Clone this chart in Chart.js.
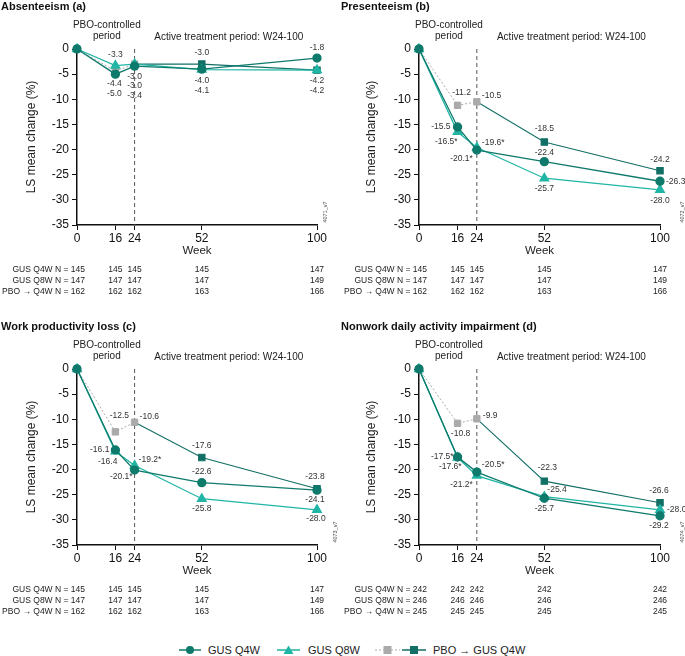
<!DOCTYPE html>
<html>
<head>
<meta charset="utf-8">
<script src="https://cdn.jsdelivr.net/npm/chart.js@4.4.0/dist/chart.umd.min.js"></script>
<style>
  body { margin: 0; background: #fff; font-family: "Liberation Sans", Arial, sans-serif; }
  #wrap { position: relative; width: 685px; height: 656px; overflow: hidden; }
  canvas { position: absolute; }
  #legend { position: absolute; left: 0; top: 644px; width: 685px; height: 16px; font-size: 11px; color: #222; }
  #legend span { position: absolute; top: 0; display: inline-flex; align-items: center; white-space: nowrap; }
</style>
</head>
<body>
<div id="wrap">
  <canvas id="absCanvas" width="340" height="320" style="left:0;top:0"></canvas>
  <canvas id="presCanvas" width="345" height="320" style="left:340px;top:0"></canvas>
  <canvas id="workCanvas" width="340" height="320" style="left:0;top:320px"></canvas>
  <canvas id="nonworkCanvas" width="345" height="320" style="left:340px;top:320px"></canvas>
  <div id="legend">
    <span style="left:179px"><svg width="22" height="10" style="margin-right:7px"><line x1="0" y1="5" x2="22" y2="5" stroke="#0e7a6c" stroke-width="1.5"/><circle cx="11" cy="5" r="4" fill="#0e7a6c"/></svg>GUS Q4W</span>
    <span style="left:277px"><svg width="23" height="10" style="margin-right:8px"><line x1="0" y1="5" x2="23" y2="5" stroke="#21b5a5" stroke-width="1.5"/><polygon points="11.5,0.5 16.5,9 6.5,9" fill="#21b5a5"/></svg>GUS Q8W</span>
    <span style="left:375px"><svg width="25" height="10" style="margin-right:2px"><line x1="0" y1="5" x2="25" y2="5" stroke="#aaa" stroke-width="1.2" stroke-dasharray="2,2"/><rect x="8.5" y="1" width="8" height="8" fill="#aaa"/></svg><svg width="24" height="10" style="margin-right:7px"><line x1="0" y1="5" x2="24" y2="5" stroke="#126f65" stroke-width="1.5"/><rect x="8" y="1" width="8" height="8" fill="#126f65"/></svg>PBO → GUS Q4W</span>
  </div>
</div>
<script>
// Weeks on the x axis
const weeks = [0, 16, 24, 52, 100];
const pboWeeks = [0, 16, 24];
const switchWeeks = [24, 52, 100];

// Absenteeism (a)
const absQ4W = [0, -5.0, -3.4, -4.0, -1.8];
const absQ8W = [0, -3.3, -3.0, -4.1, -4.2];
const absPBO = [0, -4.4, -3.0];
const absSwitch = [-3.0, -3.0, -4.2];

// Presenteeism (b)
const presQ4W = [0, -15.5, -20.1, -22.4, -26.3];
const presQ8W = [0, -16.5, -19.6, -25.7, -28.0];
const presPBO = [0, -11.2, -10.5];
const presSwitch = [-10.5, -18.5, -24.2];

// Work productivity loss (c)
const workQ4W = [0, -16.1, -20.1, -22.6, -24.1];
const workQ8W = [0, -16.4, -19.2, -25.8, -28.0];
const workPBO = [0, -12.5, -10.6];
const workSwitch = [-10.6, -17.6, -23.8];

// Nonwork daily activity impairment (d)
const nonworkQ4W = [0, -17.5, -20.5, -25.7, -29.2];
const nonworkQ8W = [0, -17.6, -21.2, -25.4, -28.0];
const nonworkPBO = [0, -10.8, -9.9];
const nonworkSwitch = [-9.9, -22.3, -26.6];

// Significance stars (point indexes)
const presStarsQ4W = [2];
const presStarsQ8W = [1, 2];
const workStarsQ4W = [2];
const workStarsQ8W = [2];
const nonworkStarsQ4W = [1, 2];
const nonworkStarsQ8W = [1, 2];

// Patients at each week
const nAbsQ4W = [145, 145, 145, 145, 147];
const nAbsQ8W = [147, 147, 147, 147, 149];
const nAbsPBO = [162, 162, 162, 163, 166];
const nNonworkQ4W = [242, 242, 242, 242, 242];
const nNonworkQ8W = [246, 246, 246, 246, 246];
const nNonworkPBO = [245, 245, 245, 245, 245];

const yTicks = [0, -5, -10, -15, -20, -25, -30, -35];

const C_Q4W = '#0e7a6c';
const C_Q8W = '#21b5a5';
const C_PBO = '#aaaaaa';
const C_SW = '#126f65';

// label placement: [dataset, point, dx, dy, align]
const absLabelPos = [
  [1, 1, 0, -11], [2, 1, -1, 13], [0, 1, -1, 20],
  [1, 2, 0, 13], [2, 2, 0, 22], [0, 2, 0, 30],
  [3, 1, 0, -11], [0, 3, 0, 12], [1, 3, 0, 21],
  [0, 4, 0, -10], [1, 4, 0, 11], [3, 2, 0, 21]
];
const presLabelPos = [
  [2, 1, 4, -13], [2, 2, 5, -6, 'left'], [0, 1, -7, 0, 'right'], [1, 1, 0, 10, 'right'],
  [1, 2, 5, -5, 'left'], [0, 2, -4, 9, 'right'], [3, 1, 0, -13], [0, 3, 0, -9],
  [1, 3, 0, 10], [3, 2, 0, -11], [0, 4, 6, 0, 'left'], [1, 4, 0, 11]
];
const workLabelPos = [
  [2, 1, 4, -16], [2, 2, 5, -6, 'left'], [0, 1, -6, 0, 'right'], [1, 1, 2, 10, 'right'],
  [1, 2, 4, -6, 'left'], [0, 2, -2, 7, 'right'], [3, 1, 0, -12], [0, 3, 0, -11],
  [1, 3, 0, 10], [3, 2, -2, -12], [0, 4, -2, 9], [1, 4, -1, 9]
];
const nonworkLabelPos = [
  [2, 1, 3, 10], [2, 2, 6, -3, 'left'], [0, 1, -4, 0, 'right'], [1, 1, 4, 9.5, 'right'],
  [0, 2, 5, -7, 'left'], [1, 2, -4, 9, 'right'], [3, 1, 3, -13], [1, 3, 3, -7, 'left'],
  [0, 3, 0, 10], [3, 2, -1, -12], [1, 4, 7, 0, 'left'], [0, 4, -1, 10]
];

const panels = [
  { id: 'absCanvas', title: 'Absenteeism (a)', q4w: absQ4W, q8w: absQ8W, pbo: absPBO, sw: absSwitch,
    starsQ4W: [], starsQ8W: [], nQ4W: nAbsQ4W, nQ8W: nAbsQ8W, nPBO: nAbsPBO,
    labelPos: absLabelPos, tag: '4071_v7', yWidth: 77, padRight: 23, tagDx: 8 },
  { id: 'presCanvas', title: 'Presenteeism (b)', q4w: presQ4W, q8w: presQ8W, pbo: presPBO, sw: presSwitch,
    starsQ4W: presStarsQ4W, starsQ8W: presStarsQ8W, nQ4W: nAbsQ4W, nQ8W: nAbsQ8W, nPBO: nAbsPBO,
    labelPos: presLabelPos, tag: '4072_v7', yWidth: 79, padRight: 25, tagDx: 22 },
  { id: 'workCanvas', title: 'Work productivity loss (c)', q4w: workQ4W, q8w: workQ8W, pbo: workPBO, sw: workSwitch,
    starsQ4W: workStarsQ4W, starsQ8W: workStarsQ8W, nQ4W: nAbsQ4W, nQ8W: nAbsQ8W, nPBO: nAbsPBO,
    labelPos: workLabelPos, tag: '4073_v7', yWidth: 77, padRight: 23, tagDx: 18 },
  { id: 'nonworkCanvas', title: 'Nonwork daily activity impairment (d)', q4w: nonworkQ4W, q8w: nonworkQ8W, pbo: nonworkPBO, sw: nonworkSwitch,
    starsQ4W: nonworkStarsQ4W, starsQ8W: nonworkStarsQ8W, nQ4W: nNonworkQ4W, nQ8W: nNonworkQ8W, nPBO: nNonworkPBO,
    labelPos: nonworkLabelPos, tag: '4074_v7', yWidth: 79, padRight: 25, tagDx: 22 }
];

const FONT = '"Liberation Sans", Arial, sans-serif';

function toPoints(xs, ys) {
  return xs.map((x, i) => ({ x: x, y: ys[i] }));
}

// extra drawing: titles, period notes, dashed line, value labels, N table
const extrasPlugin = {
  id: 'extras',
  beforeDatasetsDraw(chart) {
    const ctx = chart.ctx;
    const x24 = chart.scales.x.getPixelForValue(24);
    ctx.save();
    ctx.strokeStyle = '#555';
    ctx.lineWidth = 1;
    ctx.setLineDash([4, 3]);
    ctx.beginPath();
    ctx.moveTo(x24, chart.chartArea.top);
    ctx.lineTo(x24, chart.chartArea.bottom);
    ctx.stroke();
    ctx.restore();
  },
  afterDraw(chart) {
    const p = chart.options.plugins.extras.panel;
    const ctx = chart.ctx;
    const xs = chart.scales.x;
    const area = chart.chartArea;
    ctx.save();
    ctx.fillStyle = '#111';
    ctx.textBaseline = 'middle';

    ctx.font = 'bold 11px ' + FONT;
    ctx.textAlign = 'left';
    ctx.fillText(p.title, 1, 7);

    ctx.font = '10px ' + FONT;
    ctx.fillStyle = '#222';
    ctx.textAlign = 'center';
    const pcx = (area.left + xs.getPixelForValue(24)) / 2 + 1;
    ctx.fillText('PBO-controlled', pcx, 25);
    ctx.fillText('period', pcx, 36);
    ctx.fillText('Active treatment period: W24-100', (xs.getPixelForValue(24) + area.right) / 2 + 3, 37);

    // axis titles
    ctx.font = '11.5px ' + FONT;
    ctx.fillText('Week', (area.left + area.right) / 2, 251);
    ctx.save();
    ctx.translate(32, (area.top + area.bottom) / 2);
    ctx.rotate(-Math.PI / 2);
    ctx.font = '12px ' + FONT;
    ctx.fillText('LS mean change (%)', 0, 0);
    ctx.restore();

    // version tag
    ctx.save();
    ctx.font = '5.5px ' + FONT;
    ctx.fillStyle = '#444';
    ctx.translate(area.right + p.tagDx, 212);
    ctx.rotate(-Math.PI / 2);
    ctx.fillText(p.tag, 0, 0);
    ctx.restore();

    // N table
    ctx.font = '8.5px ' + FONT;
    ctx.fillStyle = '#222';
    const rows = [['GUS Q4W N = ', p.nQ4W], ['GUS Q8W N = ', p.nQ8W], ['PBO \u2192 Q4W N = ', p.nPBO]];
    rows.forEach((r, ri) => {
      const y = 270 + ri * 11;
      ctx.textAlign = 'right';
      ctx.fillText(r[0] + r[1][0], area.left + 8, y);
      ctx.textAlign = 'center';
      for (let i = 1; i < weeks.length; i++) {
        ctx.fillText(String(r[1][i]), xs.getPixelForValue(weeks[i]), y);
      }
    });

    // value labels
    ctx.font = '8.5px ' + FONT;
    ctx.fillStyle = '#333';
    const starSets = [p.starsQ4W, p.starsQ8W, [], []];
    p.labelPos.forEach(lp => {
      const [di, pi, dx, dy, align] = lp;
      const el = chart.getDatasetMeta(di).data[pi];
      const v = chart.data.datasets[di].data[pi].y;
      let txt = v.toFixed(1);
      if (starSets[di].includes(pi)) txt += '*';
      ctx.textAlign = align || 'center';
      ctx.fillText(txt, el.x + dx, el.y + dy);
    });
    ctx.restore();
  }
};

panels.forEach(p => {
  const ctx = document.getElementById(p.id).getContext('2d');
  new Chart(ctx, {
    type: 'line',
    data: {
      datasets: [
        { label: 'GUS Q4W', data: toPoints(weeks, p.q4w), borderColor: C_Q4W, backgroundColor: C_Q4W,
          pointStyle: 'circle', pointRadius: 4, borderWidth: 1.3 },
        { label: 'GUS Q8W', data: toPoints(weeks, p.q8w), borderColor: C_Q8W, backgroundColor: C_Q8W,
          pointStyle: 'triangle', pointRadius: 5, borderWidth: 1.3 },
        { label: 'PBO', data: toPoints(pboWeeks, p.pbo), borderColor: C_PBO, backgroundColor: C_PBO,
          pointStyle: 'rect', pointRadius: 4.5, borderWidth: 1, borderDash: [2, 2] },
        { label: 'PBO \u2192 GUS Q4W', data: toPoints(switchWeeks, p.sw), borderColor: C_SW, backgroundColor: C_SW,
          pointStyle: 'rect', pointRadius: [0, 4.5, 4.5], borderWidth: 1.1 }
      ]
    },
    options: {
      responsive: false,
      animation: false,
      devicePixelRatio: 1,
      layout: { padding: { left: 0, top: 49, right: p.padRight, bottom: 0 } },
      elements: { line: { tension: 0 }, point: { borderWidth: 0 } },
      clip: false,
      scales: {
        x: {
          type: 'linear', min: 0, max: 100,
          afterBuildTicks: s => { s.ticks = weeks.map(w => ({ value: w })); },
          afterFit: s => { s.height = 95; },
          grid: { display: true, drawOnChartArea: false, drawTicks: true, tickLength: 5, color: '#111' },
          border: { display: true, color: '#111', width: 1.5 },
          ticks: { color: '#111', font: { size: 12, family: FONT }, padding: 1, maxRotation: 0, autoSkip: false }
        },
        y: {
          type: 'linear', min: -35, max: 0,
          afterBuildTicks: s => { s.ticks = yTicks.map(v => ({ value: v })); },
          afterFit: s => { s.width = p.yWidth; },
          grid: { display: true, drawOnChartArea: false, drawTicks: true, tickLength: 5, color: '#111' },
          border: { display: true, color: '#111', width: 1.5 },
          ticks: { color: '#111', font: { size: 12, family: FONT }, padding: 3 }
        }
      },
      plugins: {
        legend: { display: false },
        tooltip: { enabled: false },
        extras: { panel: p }
      }
    },
    plugins: [extrasPlugin]
  });
});
</script>
</body>
</html>
